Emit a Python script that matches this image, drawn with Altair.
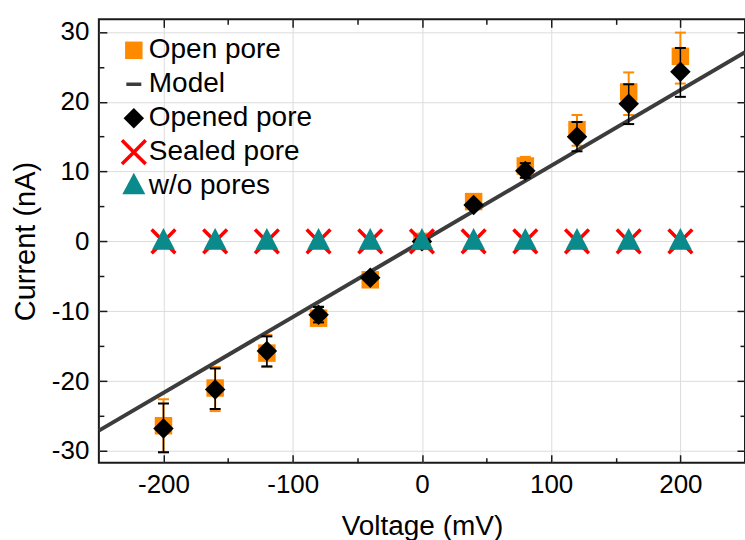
import altair as alt
import pandas as pd

# ---- data ----
voltage = [-200, -160, -120, -80, -40, 0, 40, 80, 120, 160, 200]
open_pore = [-26.4, -21.0, -16.0, -11.0, -5.5, 0.0, 5.7, 10.8, 16.0, 21.4, 26.5]
open_lo = [-30.2, -24.3, -18.0, -12.0, -6.0, 0.0, 5.2, 9.4, 13.7, 18.1, 22.6]
open_hi = [-22.6, -18.0, -13.4, -9.3, -4.9, 0.0, 6.2, 12.1, 18.1, 24.2, 29.9]
opened_pore = [-26.8, -21.2, -15.7, -10.5, -5.2, 0.0, 5.2, 10.1, 15.0, 19.7, 24.3]
opened_lo = [-30.2, -24.0, -17.9, -11.6, -5.7, 0.0, 4.8, 9.1, 12.9, 16.8, 20.7]
opened_hi = [-23.2, -18.2, -13.6, -9.4, -4.7, 0.0, 5.6, 11.2, 17.1, 22.5, 27.7]
sealed_pore = [0.0, 0.0, 0.0, 0.0, 0.0, 0.0, 0.0, 0.0, 0.0, 0.0, 0.0]
wo_pores = [0.0, 0.0, 0.0, 0.0, 0.0, 0.0, 0.0, 0.0, 0.0, 0.0, 0.0]
model_v = [-250, 250]
model_i = [-27.1, 27.1]

x_major = [-200, -100, 0, 100, 200]
x_minor = [-150, -50, 50, 150]
y_major = [-30, -20, -10, 0, 10, 20, 30]
y_minor = [-25, -15, -5, 5, 15, 25]

series_names = ["Open pore", "Model", "Opened pore", "Sealed pore", "w/o pores"]
series_colors = ["#FF8A00", "#3c3c3c", "#000000", "#FF0000", "#0A8A8A"]

# marker outlines (unit paths, all drawn at one symbol size)
SQUARE_PATH = "M-0.7,-0.7L0.7,-0.7L0.7,0.7L-0.7,0.7Z"
DASH_PATH = "M-0.6,-0.14L0.6,-0.14L0.6,0.14L-0.6,0.14Z"
DIAMOND_PATH = "M0,-0.82L0.82,0L0,0.82L-0.82,0Z"
X_PATH = ("M-1.05,-0.85L-0.85,-1.05L0,-0.2L0.85,-1.05L1.05,-0.85L0.2,0"
          "L1.05,0.85L0.85,1.05L0,0.2L-0.85,1.05L-1.05,0.85L-0.2,0Z")
TRI_PATH = "M0,-1.08L0.92,0.66L-0.92,0.66Z"
series_shapes = [SQUARE_PATH, DASH_PATH, DIAMOND_PATH, X_PATH, TRI_PATH]
SYM = 625

# ---- tables ----
pts = pd.DataFrame(
    {"V": voltage * 4,
     "I": open_pore + opened_pore + sealed_pore + wo_pores,
     "series": (["Open pore"] * len(voltage) + ["Opened pore"] * len(voltage)
                + ["Sealed pore"] * len(voltage) + ["w/o pores"] * len(voltage))}
)
err_open = pd.DataFrame({"V": voltage, "lo": open_lo, "hi": open_hi})
err_opened = pd.DataFrame({"V": voltage, "lo": opened_lo, "hi": opened_hi})
model = pd.DataFrame({"V": model_v, "I": model_i})

W, H = 647, 444
FONT = "Liberation Sans"
FRAME = "#1a1a1a"
xscale = alt.Scale(domain=[-250, 250], nice=False, zero=False)
yscale = alt.Scale(domain=[-31.7, 31.8], nice=False, zero=False)

main_x = alt.Axis(values=x_major, grid=True, gridColor="#dcdcdc", gridWidth=1,
                  ticks=False, domain=False, labelFont=FONT, labelFontSize=26,
                  labelColor="black", labelPadding=9, title="Voltage (mV)",
                  titleFont=FONT, titleFontSize=28, titleFontWeight="normal",
                  titleColor="black", titlePadding=15,
                  labelExpr="datum.value + ''")
main_y = alt.Axis(values=y_major, grid=True, gridColor="#dcdcdc", gridWidth=1,
                  ticks=False, domain=False, labelFont=FONT, labelFontSize=26,
                  labelColor="black", labelPadding=10, title="Current (nA)",
                  titleFont=FONT, titleFontSize=29, titleFontWeight="normal",
                  titleColor="black", titlePadding=11,
                  labelExpr="datum.value + ''")


def tick_axis(vals, orient, size):
    return alt.Axis(values=vals, orient=orient, grid=False, labels=False,
                    domain=False, ticks=True, tickSize=size, tickWidth=1.5,
                    tickColor=FRAME, offset=-size, title=None)


def enc_x(axis):
    return alt.X("V:Q", scale=xscale, axis=axis)


legend = alt.Legend(orient="none", legendX=21, legendY=17, title=None,
                    labelFont=FONT, labelFontSize=28, labelColor="black",
                    labelLimit=400, rowPadding=6, padding=0, labelOffset=1,
                    symbolSize=SYM, symbolStrokeWidth=0, symbolOpacity=1)


def point_layer(name):
    return alt.Chart(pts).transform_filter(alt.datum.series == name).mark_point(
        filled=True, opacity=1, strokeWidth=0, size=SYM
    ).encode(
        x=enc_x(None),
        y=alt.Y("I:Q", scale=yscale, axis=None),
        color=alt.Color("series:N", scale=alt.Scale(domain=series_names, range=series_colors), legend=legend),
        shape=alt.Shape("series:N", scale=alt.Scale(domain=series_names, range=series_shapes), legend=legend),
    )


# orange error rules (main axes)
l_open_rule = alt.Chart(err_open).mark_rule(color="#FF8A00", strokeWidth=2).encode(
    x=enc_x(main_x),
    y=alt.Y("lo:Q", scale=yscale, axis=main_y),
    y2="hi:Q",
)
# orange caps (major inward ticks bottom / left)
l_open_caps = alt.Chart(err_open).transform_fold(["lo", "hi"]).mark_tick(
    orient="horizontal", size=11, thickness=2, color="#FF8A00", opacity=1
).encode(
    x=enc_x(tick_axis(x_major, "bottom", 8)),
    y=alt.Y("value:Q", scale=yscale, axis=tick_axis(y_major, "left", 8)),
)
# orange squares (minor inward ticks bottom / left)
l_squares = point_layer("Open pore").encode(
    x=enc_x(tick_axis(x_minor, "bottom", 5)),
    y=alt.Y("I:Q", scale=yscale, axis=tick_axis(y_minor, "left", 5)),
)
# model line (major inward ticks top / right)
l_model = alt.Chart(model).mark_line(color="#3c3c3c", strokeWidth=4).encode(
    x=enc_x(tick_axis(x_major, "top", 8)),
    y=alt.Y("I:Q", scale=yscale, axis=tick_axis(y_major, "right", 8)),
)
# black error rules (minor inward ticks top / right)
l_opened_rule = alt.Chart(err_opened).mark_rule(color="black", strokeWidth=1.5).encode(
    x=enc_x(tick_axis(x_minor, "top", 5)),
    y=alt.Y("lo:Q", scale=yscale, axis=tick_axis(y_minor, "right", 5)),
    y2="hi:Q",
)
l_opened_caps = alt.Chart(err_opened).transform_fold(["lo", "hi"]).mark_tick(
    orient="horizontal", size=11, thickness=2, color="black", opacity=1
).encode(
    x=enc_x(None),
    y=alt.Y("value:Q", scale=yscale, axis=None),
)
l_diamonds = point_layer("Opened pore")
l_cross = point_layer("Sealed pore")
l_tri = point_layer("w/o pores")

chart = alt.layer(
    l_open_rule, l_open_caps, l_squares, l_model, l_opened_rule,
    l_opened_caps, l_diamonds, l_cross, l_tri
).resolve_axis(x="independent", y="independent").properties(
    width=W, height=H,
    autosize=alt.AutoSizeParams(type="none"),
    padding={"left": 99, "top": 19, "right": 0, "bottom": 77},
).configure_view(stroke=FRAME, strokeWidth=2)

chart.save("out.html", embed_options={"renderer": "svg", "actions": False})
